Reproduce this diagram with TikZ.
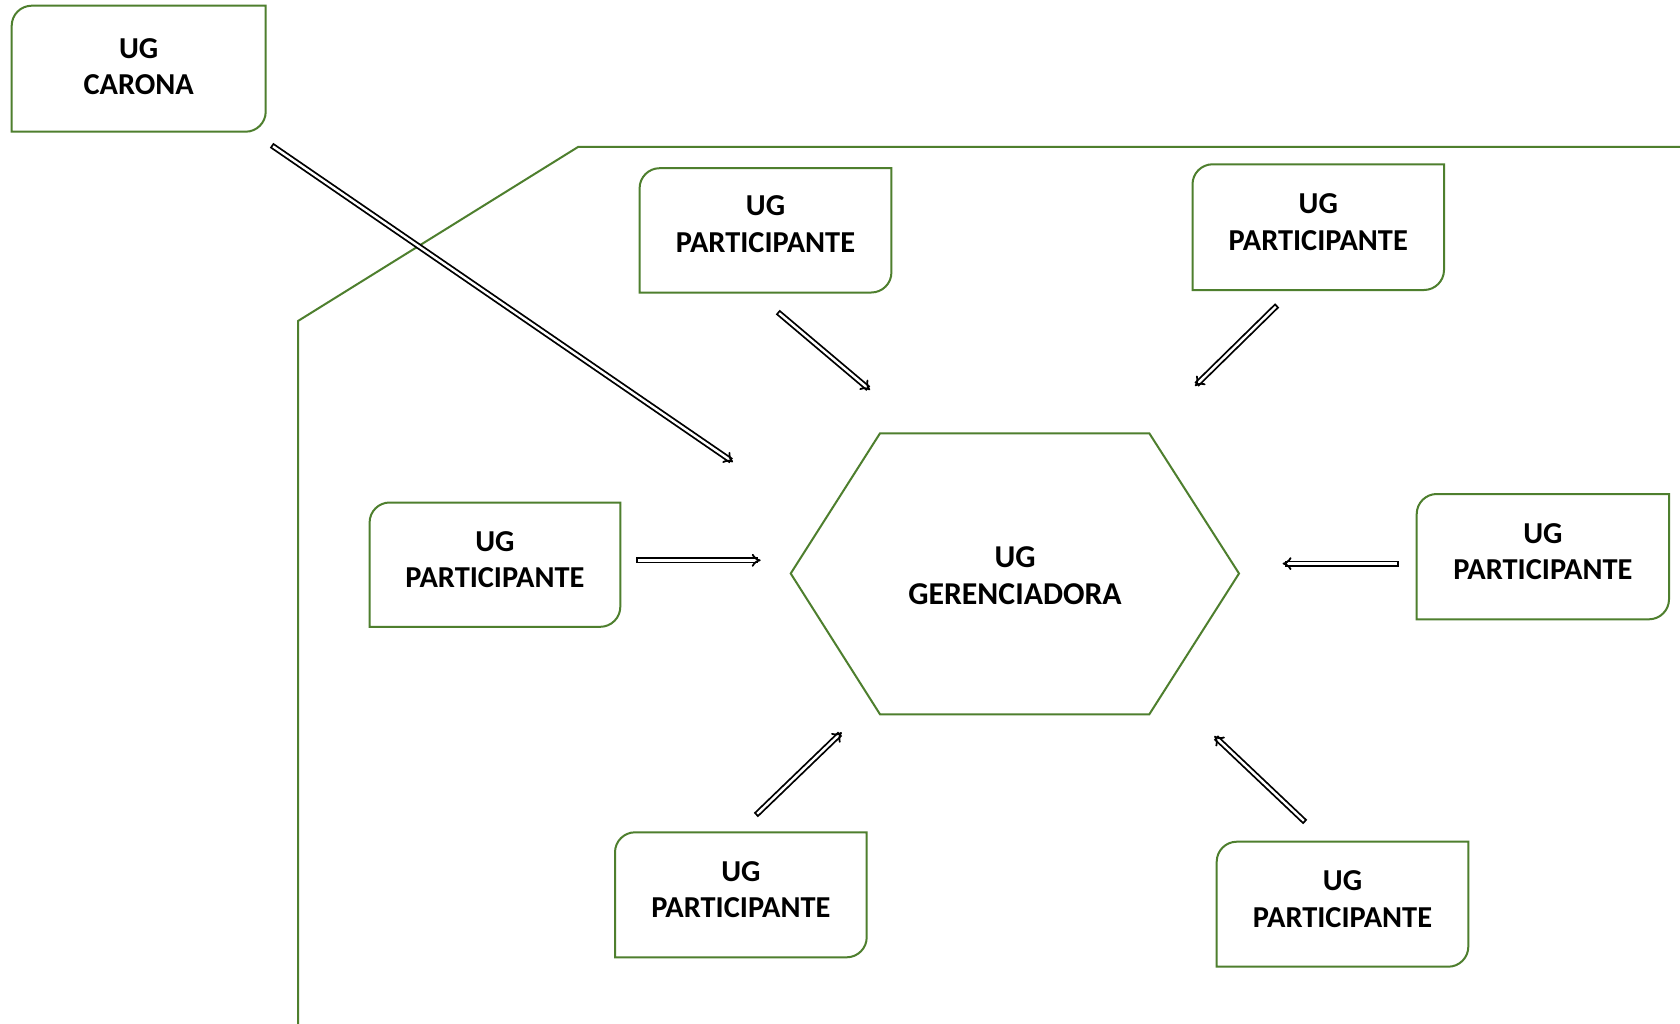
\documentclass[tikz,border=0pt]{standalone}
\usepackage{fontspec}
\setmainfont{Carlito}
\usetikzlibrary{arrows.meta,calc}
\definecolor{ugreen}{HTML}{4E7F2E}
\tikzset{
  boxline/.style={draw=ugreen, line width=2pt, line join=miter},
  boxtxt/.style={font=\bfseries\fontsize{30.4}{36.5}\selectfont, align=center, text=black, inner sep=0pt},
  gertxt/.style={font=\bfseries\fontsize{31.8}{37}\selectfont, align=center, text=black, inner sep=0pt},
  flow/.style={draw=black, line width=1.8pt, double=white, double distance=2.4pt, line cap=rect, -{Implies}},
}
\newcommand\ugbox[7]{%
  \draw[boxline] (#2,#5) -- (#2,#3+20) .. controls (#2,#3+9) and (#2+9,#3) .. (#2+20,#3)
     -- (#4,#3) -- (#4,#5-20) .. controls (#4,#5-9) and (#4-9,#5) .. (#4-20,#5) -- cycle;
  \node[boxtxt] (#1) at ({(#2+#4)/2},{(#3+#5)/2-#7}) {#6};
}
\begin{document}
\begin{tikzpicture}[x=1pt, y=-1pt]
  \fill[white] (0,0) rectangle (1680,1024);
  \useasboundingbox (0,0) rectangle (1680,1024);

  % boundary line
  \draw[boxline] (298,1024) -- (298,321) -- (578,147) -- (1680,147);

  % boxes
  \ugbox{carona}{11.7}{5.7}{265.7}{131.7}{UG\\CARONA}{2}
  \ugbox{ptop}{639.6}{168.2}{891.4}{292.5}{UG\\PARTICIPANTE}{6}
  \ugbox{ptopr}{1192.5}{164.3}{1444}{290}{UG\\PARTICIPANTE}{5}
  \ugbox{pleft}{369.6}{502.5}{620.3}{626.8}{UG\\PARTICIPANTE}{5}
  \ugbox{pright}{1416.7}{494}{1669}{619.3}{UG\\PARTICIPANTE}{5}
  \ugbox{pbotl}{615}{832.3}{866.7}{957.3}{UG\\PARTICIPANTE}{5}
  \ugbox{pbotr}{1216.7}{841.7}{1468.3}{966.7}{UG\\PARTICIPANTE}{5}

  % hexagon
  \draw[boxline] (790.7,573.5) -- (880,433.3) -- (1149.3,433.3) -- (1239,573.5)
     -- (1149.3,714.3) -- (880,714.3) -- cycle;
  \node[gertxt] (ger) at (1015,576) {UG\\GERENCIADORA};

  % arrow end points
  \coordinate (a0s) at (274,147);     \coordinate (a0e) at (733,462);
  \coordinate (a1s) at (780,314);     \coordinate (a1e) at (870,390);
  \coordinate (a2s) at (1275,307.5);  \coordinate (a2e) at (1195,386);
  \coordinate (a3s) at (639,560.3);   \coordinate (a3e) at (760.7,560.3);
  \coordinate (a4s) at (1395.5,563.6);\coordinate (a4e) at (1282.5,563.6);
  \coordinate (a5s) at (758,813);     \coordinate (a5e) at (841.7,732.3);
  \coordinate (a6s) at (1303,820);    \coordinate (a6e) at (1214.3,736);

  \draw[flow] (a0s) -- (a0e);
  \draw[flow] (a1s) -- (a1e);
  \draw[flow] (a2s) -- (a2e);
  \draw[flow] (a3s) -- (a3e);
  \draw[flow] (a4s) -- (a4e);
  \draw[flow] (a5s) -- (a5e);
  \draw[flow] (a6s) -- (a6e);
\end{tikzpicture}
\end{document}
